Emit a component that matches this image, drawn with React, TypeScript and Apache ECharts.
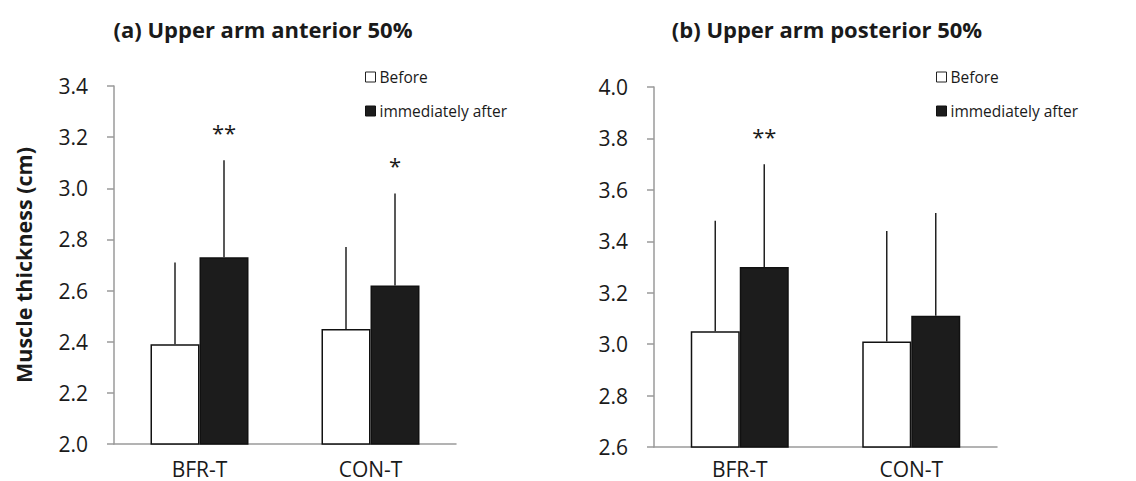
import React, { useEffect, useRef } from "react";
import * as echarts from "echarts";

const categories = ["BFR-T", "CON-T"];
const seriesNames = ["Before", "immediately after"];

const anteriorBefore = [2.39, 2.45];
const anteriorBeforeSD = [0.32, 0.32];
const anteriorAfter = [2.73, 2.62];
const anteriorAfterSD = [0.38, 0.36];
const anteriorSig = ["**", "*"];

const posteriorBefore = [3.05, 3.01];
const posteriorBeforeSD = [0.43, 0.43];
const posteriorAfter = [3.3, 3.11];
const posteriorAfterSD = [0.4, 0.4];
const posteriorSig = ["**", ""];

const titles = ["(a) Upper arm anterior 50%", "(b) Upper arm posterior 50%"];
const yAxisName = "Muscle thickness (cm)";
const yRanges = [
  [2.0, 3.4],
  [2.6, 4.0],
];

const FONT = "'Open Sans', 'Noto Sans', sans-serif";
const TEXT = "#1a1a1a";
const AXIS = "#9a9a9a";
const BAR_W = 49;

function buildErrorData(before: number[], bSD: number[], after: number[], aSD: number[]) {
  const d: number[][] = [];
  before.forEach((v, i) => d.push([i, v, v + bSD[i], -1, 0]));
  after.forEach((v, i) => d.push([i, v, v + aSD[i], 1, 1]));
  return d;
}

function errorSeries(idx: number, data: number[][], sig: string[]) {
  return {
    type: "custom",
    name: "err" + idx,
    xAxisIndex: idx,
    yAxisIndex: idx,
    z: 5,
    data,
    renderItem: (params: any, api: any) => {
      const cat = api.value(0);
      const mean = api.value(1);
      const upper = api.value(2);
      const side = api.value(3);
      const isAfter = api.value(4) === 1;
      const p0 = api.coord([cat, mean]);
      const p1 = api.coord([cat, upper]);
      const x = p0[0] + (side * BAR_W) / 2;
      const children: any[] = [
        {
          type: "line",
          shape: { x1: x, y1: p0[1], x2: x, y2: p1[1] },
          style: { stroke: "#222", lineWidth: 1.5 },
        },
      ];
      const s = isAfter ? sig[cat] : "";
      if (s) {
        children.push({
          type: "text",
          style: {
            text: s,
            x: x,
            y: p1[1] - 28,
            align: "center",
            verticalAlign: "middle",
            fontSize: 22,
            fontFamily: FONT,
            fill: TEXT,
          },
        });
      }
      return { type: "group", children };
    },
  };
}

function barSeries(name: string, idx: number, data: number[], after: boolean) {
  return {
    type: "bar",
    name,
    xAxisIndex: idx,
    yAxisIndex: idx,
    data,
    barWidth: BAR_W,
    barGap: "0%",
    itemStyle: after
      ? { color: "#1c1c1c", borderColor: "#111", borderWidth: 1.5 }
      : { color: "#ffffff", borderColor: "#111", borderWidth: 1.5 },
  };
}

export default function App() {
  const ref = useRef<HTMLDivElement>(null);

  useEffect(() => {
    if (!ref.current) return;
    const chart = echarts.init(ref.current, undefined, { renderer: "svg" });

    const grids = [
      { left: 114, top: 86, width: 342, height: 358 },
      { left: 654, top: 87, width: 343, height: 360 },
    ];

    const legendData = [
      { name: seriesNames[0], itemStyle: { color: "#fff", borderColor: "#222", borderWidth: 1 } },
      { name: seriesNames[1], itemStyle: { color: "#1c1c1c", borderColor: "#111", borderWidth: 1 } },
    ];

    const titleStyle = { fontSize: 22, fontWeight: "bold", color: TEXT, fontFamily: FONT };

    const option: any = {
      animation: false,
      backgroundColor: "#ffffff",
      title: [
        { text: titles[0], left: 258, top: 13, textAlign: "center", textStyle: titleStyle },
        { text: titles[1], left: 822, top: 13, textAlign: "center", textStyle: titleStyle },
      ],
      legend: [365, 936].map((l) => ({
        left: l,
        top: 69,
        orient: "vertical",
        padding: 0,
        itemWidth: 10,
        itemHeight: 10,
        itemGap: 18,
        icon: "rect",
        selectedMode: false,
        data: legendData,
        textStyle: { fontSize: 15.5, color: TEXT, fontFamily: FONT, lineHeight: 16, padding: [0, 0, 0, -1] },
      })),
      grid: grids,
      xAxis: [0, 1].map((i) => ({
        type: "category",
        gridIndex: i,
        data: categories,
        axisLine: { show: true, lineStyle: { color: AXIS, width: 1.5 } },
        axisTick: { show: false },
        axisLabel: {
          fontSize: 21,
          lineHeight: 21,
          color: TEXT,
          fontFamily: FONT,
          margin: i === 0 ? 14 : 11,
        },
        splitLine: { show: false },
      })),
      yAxis: [0, 1].map((i) => ({
        type: "value",
        gridIndex: i,
        min: yRanges[i][0],
        max: yRanges[i][1],
        interval: 0.2,
        name: i === 0 ? yAxisName : "",
        nameLocation: "middle",
        nameRotate: 90,
        nameGap: 80,
        nameTextStyle: { fontSize: 21.5, fontWeight: "bold", color: TEXT, fontFamily: FONT },
        axisLine: { show: true, lineStyle: { color: AXIS, width: 1.5 } },
        axisTick: { show: true, inside: false, length: 7, lineStyle: { color: AXIS, width: 1.5 } },
        axisLabel: {
          fontSize: 21,
          color: TEXT,
          fontFamily: FONT,
          margin: 26,
          formatter: (v: number) => v.toFixed(1),
        },
        splitLine: { show: false },
      })),
      series: [
        barSeries(seriesNames[0], 0, anteriorBefore, false),
        barSeries(seriesNames[1], 0, anteriorAfter, true),
        barSeries(seriesNames[0], 1, posteriorBefore, false),
        barSeries(seriesNames[1], 1, posteriorAfter, true),
        errorSeries(0, buildErrorData(anteriorBefore, anteriorBeforeSD, anteriorAfter, anteriorAfterSD), anteriorSig),
        errorSeries(1, buildErrorData(posteriorBefore, posteriorBeforeSD, posteriorAfter, posteriorAfterSD), posteriorSig),
      ],
    };

    chart.setOption(option);
    return () => chart.dispose();
  }, []);

  return (
    <div
      ref={ref}
      style={{ position: "fixed", left: 0, top: 0, width: 1136, height: 481, background: "#fff" }}
    />
  );
}
